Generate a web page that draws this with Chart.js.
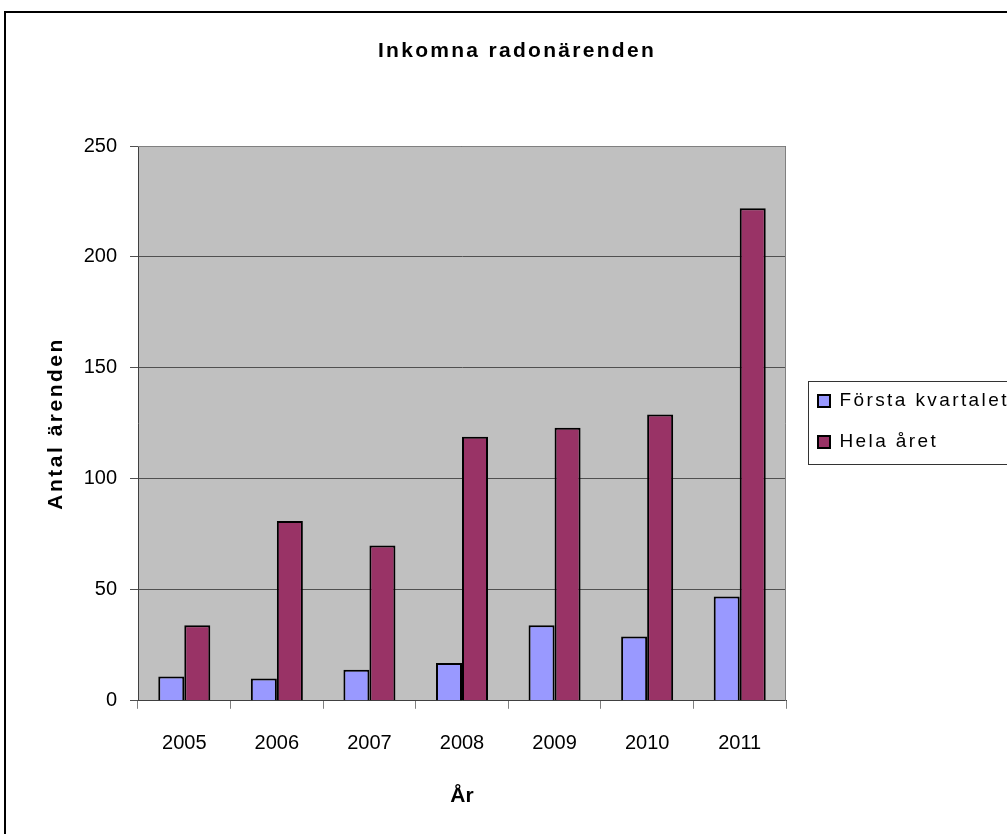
<!DOCTYPE html>
<html>
<head>
<meta charset="utf-8">
<title>Inkomna radonärenden</title>
<script src="https://cdn.jsdelivr.net/npm/chart.js@4/dist/chart.umd.min.js"></script>
<style>
  html, body { margin: 0; padding: 0; background: #fff; }
  #wrap { position: relative; width: 1007px; height: 834px; overflow: hidden; }
</style>
</head>
<body>
<div id="wrap"><canvas id="radonChart" width="1007" height="834"></canvas></div>
<script>
// data
const years = ["2005", "2006", "2007", "2008", "2009", "2010", "2011"];
const forstaKvartalet = [11, 10, 14, 17, 34, 29, 47];
const helaAret = [34, 81, 70, 119, 123, 129, 222];
const yMin = 0, yMax = 250, yStep = 50;

const FONT = "'Liberation Sans', Arial, sans-serif";

// Excel spreads its text out a bit, so wrap some draw calls with letterSpacing
function spaced(obj, method, spacing) {
  if (!obj || obj["_spaced_" + method]) return;
  const orig = obj[method];
  obj[method] = function (...args) {
    const old = this.ctx.letterSpacing;
    this.ctx.letterSpacing = spacing;
    orig.apply(this, args);
    this.ctx.letterSpacing = old;
  };
  obj["_spaced_" + method] = true;
}

// grey plot area, outer frame and the boxed legend like the Excel original
const excelLook = {
  id: "excelLook",
  afterLayout(chart) {
    // nudge title and legend to where Excel put them
    const t = chart.titleBlock;
    if (t) { t.left += 34; t.right += 34; }
    const lg = chart.legend;
    if (lg) {
      lg.left += 10; lg.top -= 2; lg.bottom -= 2;
      lg.right = chart.width + 100; // legend text runs off the edge, don't clip it
    }
    spaced(t, "draw", "2.3px");
    spaced(lg, "draw", "2.4px");
    spaced(chart.scales.y, "drawTitle", "2.5px");
  },
  beforeDraw(chart) {
    const { ctx, chartArea: a } = chart;
    ctx.save();
    ctx.fillStyle = "#fff";
    ctx.fillRect(0, 0, chart.width, chart.height);
    ctx.strokeStyle = "#000";
    ctx.lineWidth = 2;
    ctx.strokeRect(5, 12, 1100, 900);
    ctx.fillStyle = "#c0c0c0";
    ctx.fillRect(a.left, a.top, a.right - a.left, a.bottom - a.top);
    ctx.restore();
  },
  afterDraw(chart) {
    const { ctx, chartArea: a } = chart;
    ctx.save();
    ctx.strokeStyle = "#808080";
    ctx.lineWidth = 1;
    ctx.beginPath();
    ctx.moveTo(a.left, a.top + 0.5);
    ctx.lineTo(a.right - 0.5, a.top + 0.5);
    ctx.lineTo(a.right - 0.5, a.bottom);
    ctx.stroke();

    // legend frame
    const lg = chart.legend;
    const pad = lg.options.labels.padding;
    const fs = lg.options.labels.font.size;
    const n = lg.legendItems.length;
    const colH = n * (fs + pad);
    const y0 = (lg.top + pad + lg.bottom - colH) / 2;
    const c1 = y0 + fs / 2;
    const top = Math.round(c1 - 20) + 0.5;
    const bottom = Math.round(c1 + (n - 1) * (fs + pad) + 22) + 0.5;
    const left = Math.round(lg.left + pad - 10) + 0.5;
    ctx.strokeStyle = "#333";
    ctx.lineWidth = 1;
    ctx.strokeRect(left, top, 1100 - left, bottom - top);
    ctx.restore();
  }
};

new Chart(document.getElementById("radonChart"), {
  type: "bar",
  data: {
    labels: years,
    datasets: [
      { label: "Första kvartalet", data: forstaKvartalet, backgroundColor: "#9999ff", borderColor: "#000", borderWidth: 2 },
      { label: "Hela året", data: helaAret, backgroundColor: "#993366", borderColor: "#000", borderWidth: 2 }
    ]
  },
  options: {
    responsive: false,
    animation: false,
    categoryPercentage: 0.562,
    barPercentage: 1.0,
    layout: { padding: { left: 0, right: 41, top: 0, bottom: 25 } },
    plugins: {
      title: {
        display: true,
        text: "Inkomna radonärenden",
        color: "#000",
        font: { family: FONT, size: 21, weight: "bold" },
        padding: { top: 38.5, bottom: 82.3 }
      },
      legend: {
        position: "right",
        fullSize: false,
        maxWidth: 180,
        labels: {
          color: "#000",
          font: { family: FONT, size: 19 },
          boxWidth: 12,
          boxHeight: 12,
          padding: 22
        }
      },
      tooltip: { enabled: false }
    },
    scales: {
      x: {
        grid: { display: true, offset: true, drawOnChartArea: false, color: "#808080", tickLength: 8 },
        border: { color: "#404040", width: 1 },
        ticks: { color: "#000", font: { family: FONT, size: 20 }, padding: 23 },
        title: {
          display: true,
          text: "År",
          color: "#000",
          font: { family: FONT, size: 21, weight: "bold" },
          padding: { top: 5, bottom: 0 }
        }
      },
      y: {
        min: yMin,
        max: yMax,
        afterFit(scale) { scale.width = 138; },
        grid: { color: "#505050", tickLength: 8 },
        border: { color: "#404040", width: 1 },
        ticks: { stepSize: yStep, color: "#000", font: { family: FONT, size: 20 }, padding: 13 },
        title: {
          display: true,
          text: "Antal ärenden",
          color: "#000",
          font: { family: FONT, size: 21, weight: "bold" },
          padding: { top: 44, bottom: 10 }
        }
      }
    }
  },
  plugins: [excelLook]
});
</script>
</body>
</html>
